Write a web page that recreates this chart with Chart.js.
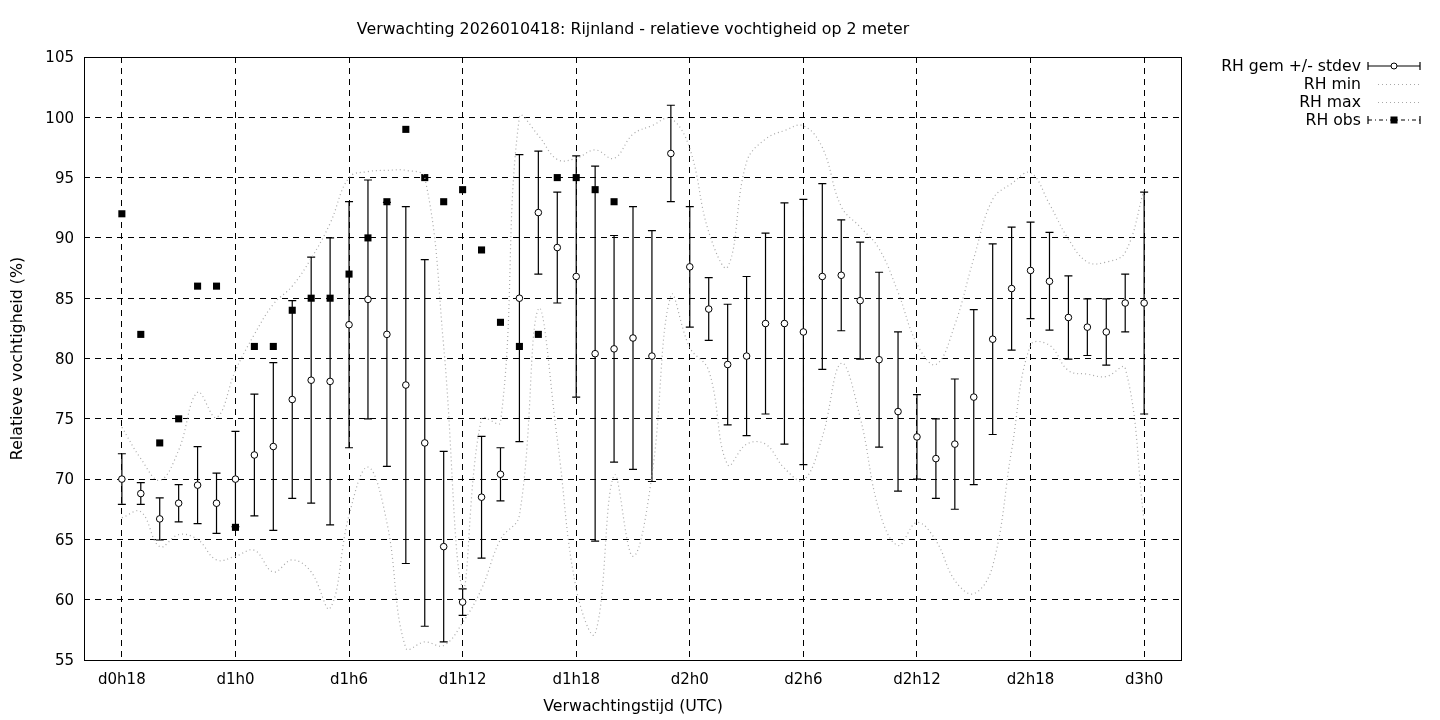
<!DOCTYPE html>
<html>
<head>
<meta charset="utf-8">
<script src="https://cdn.jsdelivr.net/npm/chart.js@4/dist/chart.umd.min.js"></script>
<style>
html,body{margin:0;padding:0;background:#fff;}
#wrap{width:1440px;height:720px;position:relative;}
</style>
</head>
<body>
<div id="wrap"><canvas id="c" width="1440" height="720"></canvas></div>
<script>
// hours since d0h0
const hours = [18,19,20,21,22,23,24,25,26,27,28,29,30,31,32,33,34,35,36,37,38,39,40,41,42,43,44,45,46,47,48,49,50,51,52,53,54,55,56,57,58,59,60,61,62,63,64,65,66,67,68,69,70,71,72];
const rhMean = [70,68.8,66.7,68,69.5,68,70,72,72.7,76.6,78.2,78.1,82.8,84.9,82,77.8,73,64.4,59.8,68.5,70.4,85,92.1,89.2,86.8,80.4,80.8,81.7,80.2,97,87.6,84.1,79.5,80.2,82.9,82.9,82.2,86.8,86.9,84.8,79.9,75.6,73.5,71.7,72.9,76.8,81.6,85.8,87.3,86.4,83.4,82.6,82.2,84.6,84.6];
const rhStdev = [2.1,0.9,1.75,1.55,3.2,2.5,3.95,5.05,6.95,8.2,10.2,11.9,10.2,9.9,10.95,14.8,15.2,7.9,1.1,5.05,2.2,11.9,5.1,4.6,10,15.55,9.4,10.9,10.4,4,5,2.6,5,6.6,7.5,10,11,7.7,4.6,4.85,7.25,6.6,3.5,3.3,5.4,7.25,7.9,5.1,4,4.05,3.45,2.35,2.75,2.4,9.2];
const rhMin = [66.8,67.3,64.4,65.4,65,63.3,63.6,64.1,62.3,63.3,62.3,59.3,67,71,66.4,56,56.5,56.2,58.1,60.9,65,67,84.1,73.3,60.9,57.2,70.3,63.6,70.3,85.2,80.9,79,71.2,72.9,72.9,70.9,69.9,73.5,79.6,75.1,67.4,64.5,66.4,64.9,61.6,60.5,62.8,72.4,81.1,81.1,79,78.7,78.5,79.2,66.5];
const rhMax = [74.3,71.7,69.9,72.4,77.2,75.1,79,82,84.5,86,88.3,91.2,95,95.5,95.6,95.6,95,81,61,75,74.7,100,98.5,96.5,96.6,97.3,96.6,98.6,99.3,99.9,97.4,90.5,87.6,96.3,98.2,98.9,99.3,97.5,92.6,90.9,89.1,85.5,81.2,79.5,82.8,88.3,93.2,94.5,95.4,92.8,89.9,88,88,88.8,94];
const rhObs = [92,82,73,75,86,86,66,81,81,84,85,85,87,90,93,99,95,93,94,89,83,81,82,95,95,94,93];
const tickHours = [18,24,30,36,42,48,54,60,66,72];
const tickLabels = ['d0h18','d1h0','d1h6','d1h12','d1h18','d2h0','d2h6','d2h12','d2h18','d3h0'];
const yTicks = [55,60,65,70,75,80,85,90,95,100,105];
const titleText = 'Verwachting 2026010418: Rijnland - relatieve vochtigheid op 2 meter';
const xTitle = 'Verwachtingstijd (UTC)';
const yTitle = 'Relatieve vochtigheid (%)';
const legendLabels = ['RH gem +/- stdev','RH min','RH max','RH obs'];

const FONT = '"DejaVu Sans", sans-serif';
const GRAY = '#a8a8a8';

const errorBarPlugin = {
  id: 'errorbars',
  beforeDatasetsDraw(chart) {
    const ctx = chart.ctx, xs = chart.scales.x, ys = chart.scales.y;
    ctx.save();
    ctx.strokeStyle = '#000';
    ctx.lineWidth = 1.2;
    ctx.setLineDash([]);
    hours.forEach((h, i) => {
      const x = xs.getPixelForValue(h);
      const yt = ys.getPixelForValue(rhMean[i] + rhStdev[i]);
      const yb = ys.getPixelForValue(rhMean[i] - rhStdev[i]);
      ctx.beginPath();
      ctx.moveTo(x, yt); ctx.lineTo(x, yb);
      ctx.moveTo(x - 4, yt); ctx.lineTo(x + 4, yt);
      ctx.moveTo(x - 4, yb); ctx.lineTo(x + 4, yb);
      ctx.stroke();
    });
    ctx.restore();
  }
};

const decorPlugin = {
  id: 'decor',
  afterDraw(chart) {
    const ctx = chart.ctx, a = chart.chartArea;
    ctx.save();
    // border box
    ctx.strokeStyle = '#000';
    ctx.lineWidth = 1;
    ctx.setLineDash([]);
    ctx.strokeRect(a.left + 0.5, a.top + 0.5, a.right - a.left - 1, a.bottom - a.top);
    // titles
    ctx.fillStyle = '#000';
    ctx.font = '15.8px ' + FONT;
    ctx.textAlign = 'center';
    ctx.textBaseline = 'middle';
    ctx.fillText(titleText, (a.left + a.right) / 2, 30);
    ctx.fillText(xTitle, (a.left + a.right) / 2, 707);
    ctx.save();
    ctx.translate(18, (a.top + a.bottom) / 2);
    ctx.rotate(-Math.PI / 2);
    ctx.fillText(yTitle, 0, 0);
    ctx.restore();
    // legend
    const rows = [66, 84, 102, 120];
    const tx = 1361, x1 = 1368, x2 = 1420, xm = 1394;
    ctx.font = '15.7px ' + FONT;
    ctx.textAlign = 'right';
    legendLabels.forEach((t, i) => ctx.fillText(t, tx, rows[i] + 1));
    // row 1: errorbar + circle
    let y = rows[0];
    ctx.lineWidth = 1.2;
    ctx.beginPath();
    ctx.moveTo(x1, y); ctx.lineTo(x2, y);
    ctx.moveTo(x1, y - 4); ctx.lineTo(x1, y + 4);
    ctx.moveTo(x2, y - 4); ctx.lineTo(x2, y + 4);
    ctx.stroke();
    ctx.beginPath(); ctx.arc(xm, y, 3, 0, Math.PI * 2);
    ctx.fillStyle = '#fff'; ctx.fill(); ctx.lineWidth = 1; ctx.stroke();
    // rows 2,3 dotted gray
    ctx.strokeStyle = GRAY; ctx.lineWidth = 1; ctx.setLineDash([1, 3]);
    [rows[1], rows[2]].forEach(yy => {
      ctx.beginPath(); ctx.moveTo(1378, yy + 0.5); ctx.lineTo(x2, yy + 0.5); ctx.stroke();
    });
    // row 4: obs
    y = rows[3];
    ctx.strokeStyle = '#000'; ctx.lineWidth = 1.2;
    ctx.setLineDash([]);
    ctx.beginPath();
    ctx.moveTo(x1, y - 4); ctx.lineTo(x1, y + 4);
    ctx.moveTo(x2, y - 4); ctx.lineTo(x2, y + 4);
    ctx.stroke();
    ctx.setLineDash([4, 3, 1, 3]);
    ctx.beginPath(); ctx.moveTo(x1, y); ctx.lineTo(x2, y); ctx.stroke();
    ctx.setLineDash([]);
    ctx.fillStyle = '#000';
    ctx.fillRect(xm - 3.5, y - 3.5, 7, 7);
    ctx.restore();
  }
};

const ctx = document.getElementById('c').getContext('2d');
new Chart(ctx, {
  type: 'scatter',
  data: {
    datasets: [
      {
        label: legendLabels[0],
        data: hours.map((h, i) => ({ x: h, y: rhMean[i] })),
        showLine: false,
        pointStyle: 'circle',
        pointRadius: 3.3,
        pointBackgroundColor: '#fff',
        pointBorderColor: '#000',
        pointBorderWidth: 1
      },
      {
        label: legendLabels[1],
        type: 'line',
        data: hours.map((h, i) => ({ x: h, y: rhMin[i] })),
        borderColor: GRAY,
        borderWidth: 1.2,
        borderDash: [1, 3],
        pointRadius: 0,
        tension: 0.4,
        fill: false
      },
      {
        label: legendLabels[2],
        type: 'line',
        data: hours.map((h, i) => ({ x: h, y: rhMax[i] })),
        borderColor: GRAY,
        borderWidth: 1.2,
        borderDash: [1, 3],
        pointRadius: 0,
        tension: 0.4,
        fill: false
      },
      {
        label: legendLabels[3],
        data: rhObs.map((v, i) => ({ x: hours[i], y: v })),
        showLine: false,
        pointStyle: 'rect',
        pointRadius: 5,
        pointBackgroundColor: '#000',
        pointBorderColor: '#000',
        pointBorderWidth: 0
      }
    ]
  },
  options: {
    responsive: false,
    animation: false,
    devicePixelRatio: 1,
    layout: { padding: { left: 0, top: 57, right: 258, bottom: 0 } },
    plugins: { legend: { display: false }, title: { display: false }, tooltip: { enabled: false } },
    scales: {
      x: {
        type: 'linear', min: 16, max: 74,
        afterBuildTicks: s => { s.ticks = tickHours.map(v => ({ value: v })); },
        afterFit: s => { s.height = 60; },
        ticks: {
          callback: v => { const k = tickHours.indexOf(v); return k >= 0 ? tickLabels[k] : ''; },
          font: { family: FONT, size: 15 }, color: '#000', padding: 11,
          maxRotation: 0, autoSkip: false
        },
        grid: { color: '#000', lineWidth: 1, drawTicks: false },
        border: { display: false, dash: [6, 5] }
      },
      y: {
        type: 'linear', min: 55, max: 105,
        afterBuildTicks: s => { s.ticks = yTicks.map(v => ({ value: v })); },
        afterFit: s => { s.width = 84; },
        ticks: { font: { family: FONT, size: 15 }, color: '#000', padding: 10, labelOffset: 1.5 },
        grid: { color: '#000', lineWidth: 1, drawTicks: false },
        border: { display: false, dash: [6, 5] }
      }
    }
  },
  plugins: [errorBarPlugin, decorPlugin]
});
</script>
</body>
</html>
